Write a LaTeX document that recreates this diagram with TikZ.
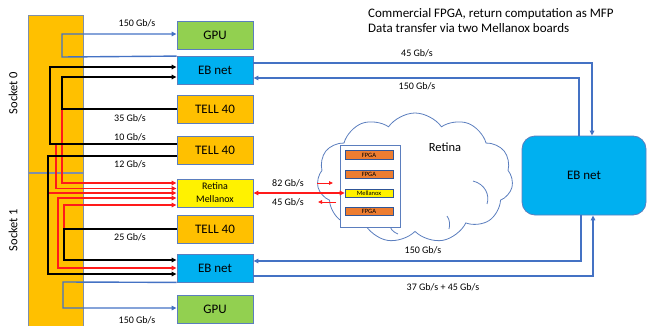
\documentclass[tikz,border=0pt]{standalone}
\usepackage{fontspec}
\setmainfont{Carlito}
\usetikzlibrary{arrows.meta,shapes.symbols}

\definecolor{ebblue}{HTML}{00B0F0}
\definecolor{gpugreen}{HTML}{92D050}
\definecolor{tellorange}{HTML}{FFC000}
\definecolor{fpgaorange}{HTML}{ED7D31}
\definecolor{boxedge}{HTML}{5B7EBE}
\definecolor{chipedge}{HTML}{2F5597}
\definecolor{linkblue}{HTML}{4472C4}
\definecolor{baredge}{HTML}{7F8FA9}
\definecolor{linkred}{HTML}{FF1A1A}

\tikzset{
  tip/.tip={Triangle[length=5pt,width=4.5pt]},
  smalltip/.tip={Triangle[length=4pt,width=3.5pt]},
  box/.style={draw=boxedge, line width=0.8pt, minimum width=76pt, minimum height=28pt,
    inner sep=0pt, font=\fontsize{13}{15}\selectfont},
  gpubox/.style={box, fill=gpugreen},
  ebbox/.style={box, fill=ebblue},
  tellbox/.style={box, fill=tellorange},
  rmbox/.style={box, fill=yellow, align=center, font=\fontsize{10}{13}\selectfont},
  chip/.style={draw=chipedge, line width=0.7pt, fill=fpgaorange, minimum width=48pt,
    minimum height=8.5pt, inner sep=0pt, font=\fontsize{6.5}{7}\selectfont},
  rate/.style={font=\fontsize{10}{12}\selectfont, inner sep=0pt},
  blkline/.style={draw=black, line width=1.8pt},
  redline/.style={draw=linkred, line width=1.4pt},
  redthin/.style={draw=linkred, line width=0.9pt},
  blueline/.style={draw=linkblue, line width=1.4pt},
  cloudline/.style={draw=boxedge, line width=0.8pt},
}

\begin{document}
\begin{tikzpicture}[x=1pt, y=-1pt]
\useasboundingbox (0,0) rectangle (647,326);

% CPU socket bar
\fill[tellorange] (28,16) rectangle (83,326);
\draw[baredge, line width=1pt] (28,326) -- (28,16) -- (83,16) -- (83,326);
\draw[baredge, line width=1.6pt] (28,173) -- (83,173);
\node[rotate=90, font=\fontsize{12.5}{15}\selectfont] (s0) at (13,93) {Socket 0};
\node[rotate=90, font=\fontsize{12.5}{15}\selectfont] (s1) at (13,230) {Socket 1};

% node boxes
\node[gpubox]  (gpuT)  at (215,35.5) {GPU};
\node[ebbox]   (ebT)   at (215,70.5) {EB net};
\node[tellbox] (tellA) at (215,109.5) {TELL 40};
\node[tellbox] (tellB) at (215,150.5) {TELL 40};
\node[rmbox]   (rm)    at (215,193) {Retina\\Mellanox};
\node[tellbox] (tellC) at (215,229) {TELL 40};
\node[ebbox]   (ebB)   at (215,268) {EB net};
\node[gpubox]  (gpuB)  at (215,309) {GPU};

% Retina cloud with its crate
\node[cloud, cloudline, cloud puffs=11, cloud puff arc=110,
  aspect=1.5, minimum width=196pt, minimum height=130pt, inner sep=0pt] (cloud) at (415,178) {};
% inner folds of the cloud
\draw[cloudline] (473,181) .. controls (485,184) and (490,195) .. (487,204);
\draw[cloudline] (389,223) .. controls (390,229) and (393,232) .. (398,234);
\draw[cloudline] (447,216) .. controls (450,220) and (450,225) .. (449,229);
\node[font=\fontsize{12.5}{15}\selectfont] (retina) at (445,147) {Retina};
\node[draw=boxedge, line width=0.8pt, fill=white, minimum width=60pt, minimum height=82pt,
  inner sep=0pt] (crate) at (370,186) {};
\node[chip] (f1) at (369,155) {FPGA};
\node[chip] (f2) at (369,174.5) {FPGA};
\node[chip, fill=yellow] (mx) at (369,193.5) {Mellanox};
\node[chip] (f3) at (369,211.5) {FPGA};

% central event builder network
\node[draw=boxedge, line width=0.8pt, fill=ebblue, rounded corners=13pt, minimum width=124pt,
  minimum height=79pt, font=\fontsize{13}{15}\selectfont] (ebR) at (584,175.5) {EB net};

% title
\node[anchor=west, align=left, font=\fontsize{13}{15}\selectfont, inner sep=0pt] (title)
  at (368,21) {Commercial FPGA, return computation as MFP\\Data transfer via two Mellanox boards};

% junctions where red links leave the black links
\coordinate (jB) at (62,109);
\coordinate (jA) at (56,144);
\coordinate (jC) at (48,193);
\coordinate (jD) at (64,229);

% red links into Retina Mellanox
\draw[redline, -tip] (jB) |- ([yshift=10pt]rm.west);
\draw[redline, -tip] (jA) |- ([yshift=4.5pt]rm.west);
\draw[redline, -tip] (jC) -- (rm.west);
\draw[redline, tip-tip] ([yshift=-5pt]rm.west) -- (58,198) |- (ebB.west);
\draw[redline, -tip] (jD) |- ([yshift=-12pt]rm.west);

% black links from TELL 40 to EB net
\draw[blkline, -tip] ([yshift=6.5pt]tellB.west) -- (50,144) |- ([yshift=3.5pt]ebT.west);
\draw[blkline, -tip] ([yshift=0.5pt]tellA.west) -- (jB) |- ([yshift=-6.5pt]ebT.west);
\draw[blkline, -tip] ([yshift=-5.5pt]tellB.west) -- (48,156) |- ([yshift=-6pt]ebB.west);
\draw[blkline, -tip] (tellC.west) -- (jD) |- ([yshift=8pt]ebB.west);

% blue links to GPUs
\draw[blueline, -tip] (ebT.north west) -- (62,57) |- ([yshift=1.5pt]gpuT.west);
\draw[blueline, -tip] (ebB.south west) -- (63,282) |- ([yshift=1pt]gpuB.west);

% blue links between EB nets
\draw[blueline, -tip] ([yshift=7.5pt]ebT.east) -| ([xshift=8pt]ebR.north);
\draw[blueline, -tip] ([xshift=-5pt]ebR.north) |- ([yshift=-7.5pt]ebT.east);
\draw[blueline, -tip] ([xshift=-3pt]ebR.south) |- ([yshift=7pt]ebB.east);
\draw[blueline, -tip] ([yshift=-8pt]ebB.east) -| ([xshift=9pt]ebR.south);

% Retina Mellanox to crate Mellanox
\draw[redline, tip-tip] (rm.east) -- (rm.east -| mx.west);
\coordinate (inS) at (317,183);
\coordinate (inE) at (333,183);
\coordinate (outS) at (336,202);
\coordinate (outE) at (318,202);
\draw[redthin, -smalltip] (inS) -- (inE);
\draw[redthin, -smalltip] (outS) -- (outE);

% rate labels
\node[rate] (r1) at (137,23) {150 Gb/s};
\node[rate] (r2) at (130,118) {35 Gb/s};
\node[rate] (r3) at (130,137) {10 Gb/s};
\node[rate] (r4) at (130,164) {12 Gb/s};
\node[rate] (r5) at (130,237) {25 Gb/s};
\node[rate] (r6) at (137,320) {150 Gb/s};
\node[rate] (r7) at (417,53) {45 Gb/s};
\node[rate] (r8) at (417,86) {150 Gb/s};
\node[rate] (r9) at (423,250) {150 Gb/s};
\node[rate] (r10) at (443,287) {37 Gb/s + 45 Gb/s};
\node[rate] (r11) at (288,183) {82 Gb/s};
\node[rate] (r12) at (288,202) {45 Gb/s};
\end{tikzpicture}
\end{document}
